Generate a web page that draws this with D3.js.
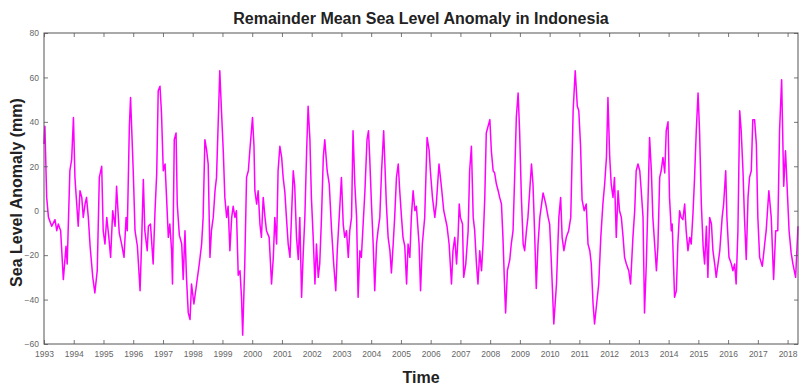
<!DOCTYPE html>
<html>
<head>
<meta charset="utf-8">
<script src="https://cdn.jsdelivr.net/npm/d3@7"></script>
<style>
  body { margin: 0; background: #fff; }
  svg { display: block; font-family: "Liberation Sans", Arial, sans-serif; }
</style>
</head>
<body>
<div id="chart"></div>
<script>
// decimal years
const times = [
  1993.00, 1993.03, 1993.09, 1993.15, 1993.26, 1993.37, 1993.43, 1993.48, 1993.56, 1993.65, 1993.74, 1993.78, 1993.87, 1993.93, 1993.99,
  1994.04, 1994.10, 1994.15, 1994.21, 1994.27, 1994.32, 1994.38, 1994.43, 1994.49, 1994.55, 1994.64, 1994.71, 1994.79, 1994.86, 1994.94, 1994.99,
  1995.05, 1995.11, 1995.18, 1995.24, 1995.31, 1995.39, 1995.44, 1995.53, 1995.61, 1995.69, 1995.76, 1995.80, 1995.87, 1995.91,
  1996.00, 1996.06, 1996.14, 1996.23, 1996.28, 1996.34, 1996.39, 1996.47, 1996.51, 1996.58, 1996.67, 1996.73, 1996.79, 1996.84, 1996.90, 1996.95,
  1997.01, 1997.07, 1997.12, 1997.18, 1997.23, 1997.29, 1997.32, 1997.38, 1997.44, 1997.48, 1997.55, 1997.63, 1997.68, 1997.74, 1997.79, 1997.85, 1997.91, 1997.96,
  1998.04, 1998.13, 1998.22, 1998.30, 1998.35, 1998.41, 1998.47, 1998.52, 1998.58, 1998.63, 1998.69, 1998.75, 1998.80, 1998.86, 1998.91, 1998.97,
  1999.03, 1999.08, 1999.14, 1999.19, 1999.25, 1999.31, 1999.36, 1999.42, 1999.47, 1999.53, 1999.59, 1999.64, 1999.68, 1999.75, 1999.81, 1999.87, 1999.92,
  2000.01, 2000.06, 2000.09, 2000.15, 2000.20, 2000.26, 2000.31, 2000.37, 2000.43, 2000.48, 2000.57, 2000.65, 2000.71, 2000.76, 2000.82, 2000.87, 2000.93, 2000.99,
  2001.04, 2001.10, 2001.15, 2001.21, 2001.27, 2001.32, 2001.38, 2001.43, 2001.49, 2001.55, 2001.60, 2001.66, 2001.71, 2001.77, 2001.83, 2001.88, 2001.94, 2001.99,
  2002.05, 2002.11, 2002.16, 2002.22, 2002.27, 2002.33, 2002.39, 2002.44, 2002.52, 2002.59, 2002.67, 2002.74, 2002.81, 2002.86, 2002.95,
  2003.00, 2003.06, 2003.11, 2003.17, 2003.23, 2003.28, 2003.34, 2003.39, 2003.45, 2003.51, 2003.56, 2003.62, 2003.67, 2003.79, 2003.86, 2003.91, 2003.95,
  2004.01, 2004.07, 2004.12, 2004.18, 2004.23, 2004.29, 2004.35, 2004.42, 2004.47, 2004.51, 2004.57, 2004.63, 2004.68, 2004.74, 2004.79, 2004.85, 2004.91, 2004.96,
  2005.02, 2005.07, 2005.13, 2005.19, 2005.24, 2005.30, 2005.35, 2005.41, 2005.47, 2005.52, 2005.61, 2005.66, 2005.72, 2005.80, 2005.88, 2005.95, 2005.99,
  2006.06, 2006.14, 2006.19, 2006.28, 2006.36, 2006.44, 2006.55, 2006.62, 2006.70, 2006.75, 2006.81, 2006.87, 2006.92, 2006.96,
  2007.00, 2007.07, 2007.11, 2007.18, 2007.26, 2007.31, 2007.37, 2007.43, 2007.48, 2007.54, 2007.59, 2007.65, 2007.71, 2007.76, 2007.82, 2007.87, 2007.99,
  2008.04, 2008.10, 2008.15, 2008.21, 2008.27, 2008.32, 2008.38, 2008.43, 2008.49, 2008.52, 2008.58, 2008.66, 2008.71, 2008.77, 2008.83, 2008.88, 2008.94, 2008.99,
  2009.05, 2009.11, 2009.16, 2009.22, 2009.27, 2009.33, 2009.39, 2009.44, 2009.50, 2009.55, 2009.61, 2009.67, 2009.78, 2009.87, 2009.95,
  2010.00, 2010.06, 2010.14, 2010.23, 2010.31, 2010.37, 2010.42, 2010.48, 2010.56, 2010.64, 2010.71, 2010.79, 2010.86, 2010.93, 2010.98,
  2011.04, 2011.09, 2011.16, 2011.23, 2011.29, 2011.35, 2011.40, 2011.46, 2011.51, 2011.58, 2011.65, 2011.72, 2011.79, 2011.85, 2011.91, 2011.96,
  2012.02, 2012.07, 2012.13, 2012.18, 2012.24, 2012.30, 2012.35, 2012.41, 2012.47, 2012.52, 2012.58, 2012.66, 2012.72, 2012.80, 2012.86, 2012.91, 2012.97,
  2013.03, 2013.08, 2013.14, 2013.19, 2013.25, 2013.31, 2013.36, 2013.42, 2013.47, 2013.53, 2013.59, 2013.64, 2013.70, 2013.75, 2013.81, 2013.87, 2013.92, 2013.98,
  2014.03, 2014.09, 2014.12, 2014.20, 2014.26, 2014.31, 2014.37, 2014.42, 2014.48, 2014.54, 2014.59, 2014.65, 2014.71, 2014.76, 2014.82, 2014.87, 2014.93, 2014.99,
  2015.04, 2015.10, 2015.16, 2015.21, 2015.27, 2015.32, 2015.38, 2015.44, 2015.49, 2015.55, 2015.60, 2015.66, 2015.72, 2015.80, 2015.85, 2015.92, 2015.96,
  2016.03, 2016.11, 2016.16, 2016.22, 2016.27, 2016.33, 2016.39, 2016.44, 2016.50, 2016.55, 2016.61, 2016.67, 2016.72, 2016.78, 2016.83, 2016.89, 2016.95,
  2017.00, 2017.06, 2017.15, 2017.23, 2017.28, 2017.37, 2017.45, 2017.53, 2017.60, 2017.67, 2017.73, 2017.80, 2017.87, 2017.93, 2017.98,
  2018.05, 2018.12, 2018.18, 2018.27, 2018.35
];

// remainder sea level anomaly (mm)
const anomaly = [
  30, 38, 6, -3, -7, -4, -9, -6, -9, -31, -16, -24, 18, 23, 42,
  15, 3, -7, 9, 6, -3, 3, 6, -3, -16, -30, -37, -27, 15, 20, -9,
  -15, -3, -12, -21, 0, -7, 11, -10, -15, -21, -3, -9, 38, 51,
  18, -9, -16, -36, -15, 14, -9, -18, -7, -6, -24, -1, 17, 54, 56, 44,
  18, 21, 6, -12, -6, -18, -33, 32, 35, 3, -11, -15, -31, -9, -30, -46, -49, -33,
  -42, -33, -24, -15, -3, 32, 27, 21, -21, -9, -3, 9, 15, 41, 63, 44,
  26, 6, -3, 2, -18, -3, 2, -3, 0, -29, -27, -39, -56, -24, 15, 18, 27,
  42, 29, 9, 3, 9, -6, -12, 6, -3, -9, -12, -33, -21, -3, -15, 18, 29, 24,
  15, 8, -3, -15, -21, -3, 18, 11, -12, -22, -3, -39, -21, -3, 27, 47, 32, 6,
  -12, -33, -15, -30, -24, -3, 24, 32, 18, 12, -9, -24, -36, -18, 3,
  15, -6, -12, -9, -21, -9, -3, 36, 12, -3, -39, -18, -21, 9, 32, 36, 24,
  3, -16, -36, -15, -9, -3, 18, 36, 18, 3, -12, -18, -28, -15, -3, 15, 21, 9,
  -3, -12, -16, -33, -15, -21, -3, 9, 0, 2, -15, -36, -15, -3, 33, 27, 18,
  6, -3, 3, 21, 11, 0, -7, -15, -33, -18, -12, -24, -12, 3,
  -3, -6, -30, -24, -9, 18, 29, -3, -9, -24, -33, -18, -27, -15, 6, 35, 41,
  27, 18, 17, 12, 9, 6, 3, -12, -36, -46, -27, -22, -15, -9, 18, 42, 53, 36,
  6, -15, -18, -9, -3, 9, 21, 12, -12, -35, -15, -3, 8, 3, -3,
  -6, -24, -51, -33, -3, 6, -12, -18, -12, -9, -3, 45, 63, 47, 45,
  29, 5, 0, 3, -15, -18, -24, -42, -51, -42, -33, -12, 3, 12, 24, 51,
  24, 12, 6, 15, -12, 9, 0, -3, -12, -21, -24, -27, -33, -12, 0, 18, 21,
  18, 9, -3, -46, -24, 6, 33, 18, -3, -15, -27, -16, 15, 18, 24, 17, 36, 40,
  6, -9, -6, -39, -36, -15, 0, -3, -4, 3, -9, -18, -12, -15, -1, 14, 36, 53,
  36, 3, -16, -24, -7, -30, -3, -6, -18, -24, -30, -24, -18, -3, 3, 18, -3,
  -21, -24, -27, -24, -33, -9, 45, 36, 18, -3, -22, 6, 15, 18, 41, 41, 30,
  -3, -21, -25, -15, -9, 9, -3, -31, -9, -9, 36, 59, 11, 27, 12,
  -9, -19, -24, -30, -7
];

const yearTicks = d3.range(1993, 2019);
const yTicks = [-60, -40, -20, 0, 20, 40, 60, 80];

const W = 801, H = 385;
const L = 44, R = 798, T = 33, B = 344;

const svg = d3.select("#chart").append("svg")
  .attr("width", W)
  .attr("height", H);

const x = d3.scaleLinear().domain([1993, 2018.35]).range([L, R]);
const y = d3.scaleLinear().domain([-60, 80]).range([B, T]);

// series
const pts = times.map((t, i) => [t, anomaly[i]]);
const line = d3.line().x(d => x(d[0])).y(d => y(d[1]));

svg.append("path")
  .datum(pts)
  .attr("d", line)
  .attr("fill", "none")
  .attr("stroke", "#ff00ff")
  .attr("stroke-width", 1.5)
  .attr("stroke-linejoin", "round");

// axes, matlab style ticks pointing inward
const axColor = "#555";

const xb = svg.append("g")
  .attr("transform", `translate(0,${B})`)
  .call(d3.axisBottom(x).tickValues(yearTicks).tickFormat(d3.format("d"))
    .tickSize(-4).tickSizeOuter(0).tickPadding(7));
const xt = svg.append("g")
  .attr("transform", `translate(0,${T})`)
  .call(d3.axisTop(x).tickValues(yearTicks).tickFormat("")
    .tickSize(-4).tickSizeOuter(0));
const yl = svg.append("g")
  .attr("transform", `translate(${L},0)`)
  .call(d3.axisLeft(y).tickValues(yTicks).tickSize(-4).tickSizeOuter(0).tickPadding(5));
const yr = svg.append("g")
  .attr("transform", `translate(${R},0)`)
  .call(d3.axisRight(y).tickValues(yTicks).tickFormat("").tickSize(-4).tickSizeOuter(0));

[xb, xt, yl, yr].forEach(g => {
  g.select(".domain").remove();
  g.selectAll("line").attr("stroke", axColor).attr("stroke-width", 0.8);
  g.selectAll("text")
    .attr("fill", "#666")
    .style("font-size", "8.5px")
    .style("font-family", "'Liberation Sans', Arial, sans-serif");
});

svg.append("rect")
  .attr("x", L).attr("y", T)
  .attr("width", R - L).attr("height", B - T)
  .attr("fill", "none")
  .attr("stroke", axColor)
  .attr("stroke-width", 1);

// titles
svg.append("text")
  .attr("x", (L + R) / 2)
  .attr("y", 24)
  .attr("text-anchor", "middle")
  .style("font-size", "16px")
  .style("font-weight", "bold")
  .attr("fill", "#222")
  .text("Remainder Mean Sea Level Anomaly in Indonesia");

svg.append("text")
  .attr("x", (L + R) / 2)
  .attr("y", 383)
  .attr("text-anchor", "middle")
  .style("font-size", "16px")
  .style("font-weight", "bold")
  .attr("fill", "#222")
  .text("Time");

svg.append("text")
  .attr("transform", `translate(22,${(T + B) / 2 + 4}) rotate(-90)`)
  .attr("text-anchor", "middle")
  .style("font-size", "16px")
  .style("font-weight", "bold")
  .attr("fill", "#222")
  .text("Sea Level Anomaly (mm)");
</script>
</body>
</html>
